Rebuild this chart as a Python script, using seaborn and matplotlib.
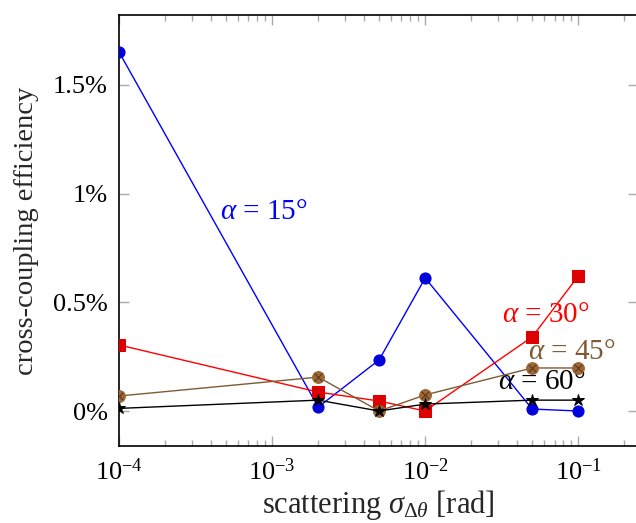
import numpy as np
import pandas as pd
import seaborn as sns
import matplotlib.pyplot as plt

# data (values in percent)
scattering = [1e-4, 2e-3, 5e-3, 1e-2, 5e-2, 1e-1]
eff_15 = [1.652, 0.018, 0.235, 0.612, 0.009, 0.000]
eff_30 = [0.304, 0.087, 0.046, 0.000, 0.341, 0.621]
eff_45 = [0.069, 0.156, 0.000, 0.074, 0.198, 0.198]
eff_60 = [0.012, 0.050, 0.000, 0.032, 0.050, 0.050]

y_ticks = [0, 0.5, 1, 1.5]
y_ticklabels = ["0%", "0.5%", "1%", "1.5%"]

sns.set_style("ticks")
plt.rcParams["font.family"] = ["Liberation Serif", "DejaVu Serif"]
plt.rcParams["mathtext.fontset"] = "custom"
plt.rcParams["mathtext.rm"] = "Liberation Serif"
plt.rcParams["mathtext.it"] = "Liberation Serif:italic"

fig = plt.figure(figsize=(6.36, 5.23), dpi=100)
ax = fig.add_axes([119 / 636, 77 / 523, 519 / 636, 431 / 523])

blue = "#0000ff"
red = "#ff0000"
brown = "#7f5a34"

#blue series
sns.lineplot(x=scattering, y=eff_15, ax=ax, color=blue, lw=1, marker="o",
             markersize=8, markerfacecolor="#0000dd", markeredgecolor="#0000dd", zorder=3)
#red series
sns.lineplot(x=scattering, y=eff_30, ax=ax, color=red, lw=1, marker="s",
             markersize=8, markerfacecolor="#dd0000", markeredgecolor="#dd0000", zorder=4)
#brown series, circle with a cross
sns.lineplot(x=scattering, y=eff_45, ax=ax, color=brown, lw=1, marker="o",
             markersize=8.5, markerfacecolor="#9c6735", markeredgecolor="#9c6735", zorder=5)
ax.scatter(scattering, eff_45, marker="x", s=30, color="#5a3a1c", lw=0.8, zorder=6)
#black series
sns.lineplot(x=scattering, y=eff_60, ax=ax, color="black", lw=1, marker="*",
             markersize=9, markerfacecolor="black", markeredgecolor="black", zorder=7)

ax.set_xscale("log")
ax.set_xlim(1e-4, 10 ** -0.61)
ax.set_ylim(-0.161, 1.822)
ax.set_yticks(y_ticks)
ax.set_yticklabels(y_ticklabels)
ax.set_xticks([1e-4, 1e-3, 1e-2, 1e-1])

ax.tick_params(which="both", direction="in", colors="#aaaaaa", labelcolor="black",
               top=True, right=True, labelsize=19)
ax.tick_params(axis="y", pad=8)
ax.tick_params(axis="x", pad=9)
ax.tick_params(which="major", length=7.5, width=1)
ax.tick_params(which="minor", length=4.5, width=1)
for s in ax.spines.values():
    s.set_color("black")
    s.set_linewidth(1.2)

ax.set_xlabel(r"scattering $\sigma_{\Delta\theta}$ [rad]", fontsize=22, labelpad=2)
ax.set_ylabel("cross-coupling efficiency", fontsize=20.5, labelpad=10)

ax.text(4.57e-4, 0.916, "$\\alpha$ = 15°", color=blue, fontsize=21, va="center")
ax.text(0.0318, 0.442, "$\\alpha$ = 30°", color=red, fontsize=21, va="center")
ax.text(0.0471, 0.272, "$\\alpha$ = 45°", color=brown, fontsize=21, va="center")
ax.text(0.030, 0.133, "$\\alpha$ = 60°", color="black", fontsize=21, va="center")

fig.savefig("out.png", dpi=100)
